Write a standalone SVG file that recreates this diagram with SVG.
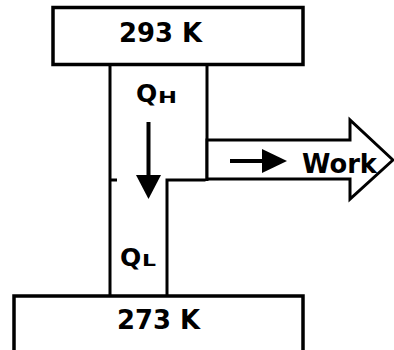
<svg xmlns="http://www.w3.org/2000/svg" width="394" height="350" viewBox="0 0 394 350">
  <style>
    .box { fill: #fff; stroke: #000; stroke-width: 3.5; }
    .ln { fill: none; stroke: #000; stroke-width: 3; }
    .t { font-family: "DejaVu Sans", "Liberation Sans", sans-serif; font-weight: bold; fill: #000; }
    .big { font-size: 26px; }
    .q { font-size: 25px; }
    .sub { font-size: 15px; }
  </style>
  <rect width="394" height="350" fill="#fff"/>
  <g id="engine">
    <path class="ln" d="M110,64 V297 M110,180 H117 M207,64 V181 M205.5,180 H167 V297"/>
  </g>
  <g id="work-arrow">
    <polygon class="ln" points="207,140 350,140 350,120 393,160 350,199 350,179 207,179" style="fill:#fff"/>
    <text class="t big" x="302" y="173" textLength="75" lengthAdjust="spacingAndGlyphs">Work</text>
  </g>
  <g id="hot-reservoir">
    <rect class="box" x="53" y="7.5" width="250" height="57"/>
    <text class="t big" x="119" y="42" textLength="83" lengthAdjust="spacingAndGlyphs">293 K</text>
  </g>
  <g id="cold-reservoir">
    <rect class="box" x="14" y="296" width="289" height="70"/>
    <text class="t big" x="117" y="329" textLength="83" lengthAdjust="spacingAndGlyphs">273 K</text>
  </g>
  <g id="qh-label">
    <text class="t q" x="136" y="102">Q</text>
    <text class="t sub" x="158" y="103" textLength="19" lengthAdjust="spacingAndGlyphs">H</text>
  </g>
  <g id="ql-label">
    <text class="t q" x="120" y="266">Q</text>
    <text class="t sub" x="142" y="266" textLength="14" lengthAdjust="spacingAndGlyphs">L</text>
  </g>
  <g id="connectors">
    <line x1="148.5" y1="122" x2="148.5" y2="177" stroke="#000" stroke-width="4"/>
    <polygon points="136,175 161,175 148.5,199" fill="#000"/>
    <line x1="230" y1="161" x2="264" y2="161" stroke="#000" stroke-width="4"/>
    <polygon points="262,149 262,173 287,161" fill="#000"/>
  </g>
</svg>
